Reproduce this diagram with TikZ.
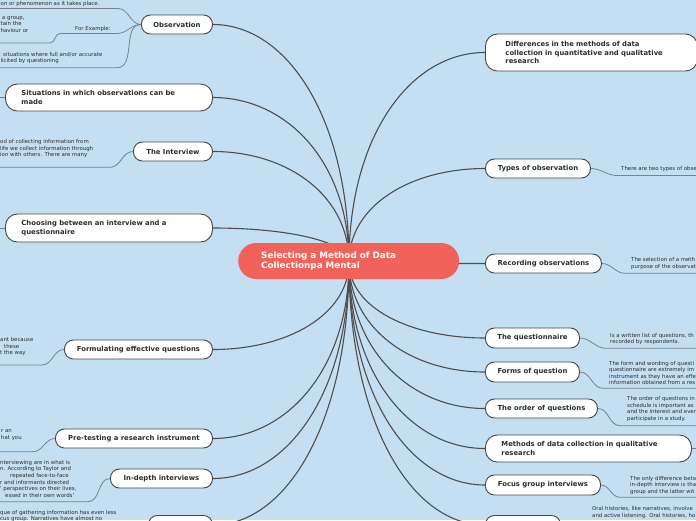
\documentclass[tikz,border=0pt]{standalone}
\usepackage{fontspec}
\newfontfamily\djv{DejaVu Sans}
\usetikzlibrary{calc}
\definecolor{bgblue}{RGB}{195,223,241}
\definecolor{rootred}{RGB}{241,99,90}
\definecolor{edgegray}{RGB}{78,78,78}
\definecolor{subgray}{RGB}{118,130,142}
\definecolor{txtdark}{RGB}{45,45,45}
\definecolor{borderc}{RGB}{70,70,70}
\tikzset{
  topic/.style={draw=borderc, fill=white, line width=0.9pt, rounded corners=9pt, text=txtdark,
    font=\djv\bfseries\fontsize{6.85}{8.6}\selectfont, minimum height=19pt, inner sep=0pt, anchor=west},
  widetopic/.style={topic, rounded corners=12pt, align=left},
  note/.style={font=\djv\fontsize{5.4}{6.6}\selectfont, text=txtdark, align=left, inner sep=0pt, anchor=north west},
  mainline/.style={draw=edgegray, line width=1.1pt},
  subline/.style={draw=subgray, line width=0.8pt},
  rootnode/.style={fill=rootred, rounded corners=18pt, minimum width=221pt, minimum height=36pt,
    inner xsep=23pt, inner ysep=0pt, text width=175pt, align=left, anchor=west, text=white,
    font=\djv\bfseries\fontsize{8.8}{10.4}\selectfont}
}
\newcommand\hublink[1]{\draw[mainline] (#1) .. controls ($(#1)!0.55!(#1 -| C)$) and ($(C)!0.6!(C |- #1)$) .. (C);}
\begin{document}
\begin{tikzpicture}[x=1pt,y=-1pt]
\fill[bgblue] (0,0) rectangle (696,520);
\useasboundingbox (0,0) rectangle (696,520);
\clip (0,0) rectangle (696,520);
\coordinate (C) at (349,262);

% ---------- left topics
\node[topic, minimum width=71pt] (obs) at (141,24.5) {Observation};
\node[widetopic, minimum height=27pt, inner xsep=16pt, text width=175pt] (sit) at (5,97.5) {Situations in which observations can be\\made};
\node[topic, minimum width=79pt] (intv) at (133,151.5) {The Interview};
\node[widetopic, minimum height=28pt, inner xsep=16pt, text width=175pt] (choo) at (5,228) {Choosing between an interview and a\\questionnaire};
\node[topic, minimum width=148pt] (form) at (64,349.5) {Formulating effective questions};
\node[topic, minimum width=157pt] (pret) at (55,438.5) {Pre-testing a research instrument};
\node[topic, minimum width=102pt] (indp) at (110,478.5) {In-depth interviews};
\node[topic, minimum width=64pt] (narr) at (148,525) {};

% ---------- right topics
\node[widetopic, minimum height=37pt, inner xsep=20pt, text width=172pt] (diff) at (485,52.5) {Differences in the methods of data\\collection in quantitative and qualitative\\research};
\node[topic, minimum width=105pt] (types) at (485,168.5) {Types of observation};
\node[topic, minimum width=116pt] (rec) at (485,263.5) {Recording observations};
\node[topic, minimum width=94pt, minimum height=20pt] (quest) at (485,338) {The questionnaire};
\node[topic, minimum width=94pt, minimum height=20pt] (forms) at (485,372) {Forms of question};
\node[topic, minimum width=112pt] (order) at (485,408.5) {The order of questions};
\node[widetopic, minimum height=27pt, inner xsep=16pt, text width=174pt] (qual) at (485,448.5) {Methods of data collection in qualitative\\research};
\node[topic, minimum width=115pt, minimum height=20pt] (focus) at (485,485) {Focus group interviews};
\node[topic, minimum width=75pt] (oral) at (485,525) {};

% ---------- hub connectors
\hublink{obs.east}
\hublink{sit.east}
\hublink{intv.east}
\hublink{choo.east}
\hublink{form.east}
\hublink{pret.east}
\hublink{indp.east}
\hublink{narr.east}
\hublink{diff.west}
\hublink{types.west}
\hublink{rec.west}
\hublink{quest.west}
\hublink{forms.west}
\hublink{order.west}
\hublink{qual.west}
\hublink{focus.west}
\hublink{oral.west}

% ---------- stubs leading off the picture
\coordinate (sitstub) at (-6,97.5);
\coordinate (choostub) at (-6,228);
\coordinate (qualstub) at (702,448.5);
\draw[subline] (sit.west) -- (sitstub);
\draw[subline] (choo.west) -- (choostub);
\draw[subline] (qual.east) -- (qualstub);

% ---------- left notes
\node[note] (o1) at (0.5,1) {on or phenomenon as it takes place.};
\coordinate (o1a) at (0,8.5); \coordinate (o1b) at (118,8.5);
\draw[subline] (o1a) -- (o1b) to[out=0,in=180] (obs.west);

\node[note, anchor=west] (fe) at (75,29) {For Example:};
\coordinate (fea) at (60,33.5); \coordinate (feb) at (117,33.5);
\draw[subline] (fea) -- (feb) to[out=0,in=180] (obs.west);

\node[note] (o2) at (0.5,15.8) {\hspace*{1.5pt}a group,\\tain the\\haviour or};
\coordinate (o2a) at (0,43); \coordinate (o2b) at (50,43);
\draw[subline] (o2a) -- (o2b) to[out=0,in=180] (fea);

\node[note] (o3) at (0.5,52) {\hspace*{2.5pt}situations where full and/or accurate\\licited by questioning};
\coordinate (o3a) at (0,67.7); \coordinate (o3b) at (117,67.7);
\draw[subline] (o3a) -- (o3b) to[out=0,in=180] (obs.west);

\node[note] (i1) at (0,139.1) {od of collecting information from\\life we collect information through\\ion with others. There are many};
\coordinate (i1a) at (0,167.3); \coordinate (i1b) at (110,167.3);
\draw[subline] (i1a) -- (i1b) to[out=0,in=180] (intv.west);

\node[note] (f1) at (0,337.4) {ant because\\\hspace*{4pt}these\\t the way};
\coordinate (f1a) at (0,365); \coordinate (f1b) at (42,365);
\draw[subline] (f1a) -- (f1b) to[out=0,in=180] (form.west);

\node[note] (p1) at (1,429.5) {r an\\hat you};
\coordinate (p1a) at (0,451.7); \coordinate (p1b) at (33,451.7);
\draw[subline] (p1a) -- (p1b) to[out=0,in=180] (pret.west);

\node[note] (d1) at (0,460) {nterviewing are in what is\\n. According to Taylor and\\\hspace*{10pt}repeated face-to-face\\r and informants directed\\' perspectives on their lives,\\\hspace*{5pt}essed in their own words'};
\coordinate (d1a) at (0,501.7); \coordinate (d1b) at (88,501.7);
\draw[subline] (d1a) -- (d1b) to[out=0,in=180] (indp.west);

\node[note] (b1) at (0,509.7) {que of gathering information has even less\\cus group. Narratives have almost no};

% ---------- right notes
\node[note] (t1) at (621,166.4) {There are two types of obse};
\coordinate (t1a) at (617,175.5); \coordinate (t1b) at (700,175.5);
\draw[subline] (types.east) to[out=0,in=180] (t1a) -- (t1b);

\node[note] (r1) at (631,257.4) {The selection of a meth\\purpose of the observati};
\coordinate (r1a) at (625,273.3); \coordinate (r1b) at (700,273.3);
\draw[subline] (rec.east) to[out=0,in=180] (r1a) -- (r1b);

\node[note] (q1) at (610,333) {Is a written list of questions, th\\recorded by respondents.};
\coordinate (q1a) at (606,348.3); \coordinate (q1b) at (700,348.3);
\draw[subline] (quest.east) to[out=0,in=180] (q1a) -- (q1b);

\node[note] (fm1) at (609,360.7) {The form and wording of questi\\questionnaire are extremely im\\instrument as they have an effe\\information obtained from a res};
\coordinate (fm1a) at (603,388.3); \coordinate (fm1b) at (700,388.3);
\draw[subline] (forms.east) to[out=0,in=180] (fm1a) -- (fm1b);

\node[note] (or1) at (627,396.4) {The order of questions in\\schedule is important as\\and the interest and ever\\participate in a study.};
\coordinate (or1a) at (620,425.7); \coordinate (or1b) at (700,425.7);
\draw[subline] (order.east) to[out=0,in=180] (or1a) -- (or1b);

\node[note] (fg1) at (630,475.7) {The only difference betw\\in-depth interview is tha\\group and the latter wit};
\coordinate (fg1a) at (620,497.3); \coordinate (fg1b) at (700,497.3);
\draw[subline] (focus.east) to[out=0,in=180] (fg1a) -- (fg1b);

\node[note] (oh1) at (592,506.4) {Oral histories, like narratives, involve\\and active listening. Oral histories, ho};

% ---------- root
\node[rootnode] (root) at (238,261) {Selecting a Method of Data\\Collectionpa Mental};
\end{tikzpicture}
\end{document}
